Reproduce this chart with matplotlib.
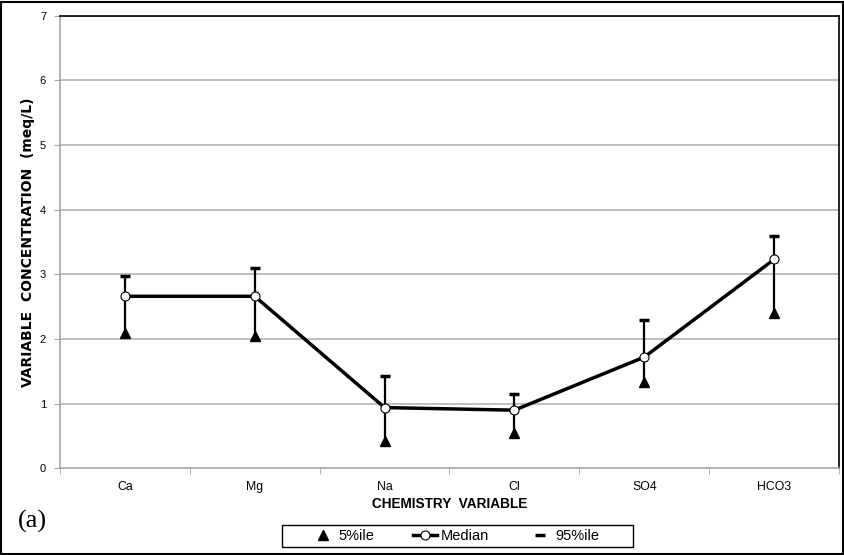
import matplotlib
matplotlib.use("Agg")
import matplotlib.pyplot as plt
import numpy as np
from matplotlib.lines import Line2D
from matplotlib.patches import Rectangle

categories = ["Ca", "Mg", "Na", "Cl", "SO4", "HCO3"]
p05 = [2.10, 2.05, 0.42, 0.55, 1.33, 2.40]
median = [2.66, 2.66, 0.94, 0.90, 1.72, 3.23]
p95 = [2.97, 3.09, 1.43, 1.15, 2.29, 3.59]
yticks = [0, 1, 2, 3, 4, 5, 6, 7]

plt.rcParams['font.family'] = ['Liberation Sans', 'DejaVu Sans']

fig = plt.figure(figsize=(8.45, 5.55), dpi=100)
ax = fig.add_axes([60/845, 1-468.4/555, 779/845, (468.4-15.5)/555])

x = np.arange(len(categories))
ax.set_xlim(-0.5, len(categories)-0.5)
ax.set_ylim(0, 7)

for yt in yticks[1:]:
    ax.axhline(yt, color='#b4b4b4', lw=1.2, zorder=1)

ax.vlines(x, p05, p95, color='black', lw=1.6, zorder=3)
ax.plot(x, p95, linestyle='none', marker='_', markersize=7.5, markeredgewidth=2.5, color='black', zorder=4)
ax.plot(x, p05, linestyle='none', marker='^', markersize=7, color='black', zorder=4)
ax.plot(x, median, color='black', lw=2.5, marker='o', markersize=6.5,
        markerfacecolor='white', markeredgecolor='black', markeredgewidth=0.8, zorder=5)

ax.set_yticks(yticks)
ax.set_yticklabels([str(v) for v in yticks], fontsize=8)
ax.set_xticks(x)
ax.set_xticklabels(categories, fontsize=8.8)
ax.set_xticks(np.arange(-0.5, len(categories)), minor=True)
ax.tick_params(axis='x', which='major', length=0, pad=9)
ax.tick_params(axis='x', which='minor', length=4, color='#a6a6a6')
ax.tick_params(axis='y', length=4, color='#a6a6a6', pad=6)

for s in ['left', 'bottom']:
    ax.spines[s].set_color('#a6a6a6')
    ax.spines[s].set_linewidth(1.2)
for s in ['top', 'right']:
    ax.spines[s].set_color('black')
    ax.spines[s].set_linewidth(1.2)

ax.set_xlabel("CHEMISTRY  VARIABLE", fontsize=9.8, fontweight='bold', labelpad=3)
ax.set_ylabel("VARIABLE  CONCENTRATION  (meq/L)", fontsize=10, fontweight='bold',
              family=['DejaVu Sans'])
ax.yaxis.set_label_coords(-(60-35)/779, 0.5)

handles = [
    Line2D([], [], linestyle='none', marker='^', markersize=7, color='black'),
    Line2D([], [], color='black', lw=2.5, marker='o', markersize=6.5,
           markerfacecolor='white', markeredgecolor='black', markeredgewidth=0.8),
    Line2D([], [], linestyle='none', marker='_', markersize=7.5, markeredgewidth=2.5, color='black'),
]
leg = fig.legend(handles, ["5%ile", "Median", "95%ile"], loc='center',
                 bbox_to_anchor=(455/845, 1-536/555), ncol=3, fontsize=10.5,
                 frameon=False, handlelength=1.6,
                 columnspacing=2.7, handletextpad=0.25, borderpad=0, borderaxespad=0)

fig.patches.append(Rectangle((282/845, 1-547/555), 351/845, 22/555, transform=fig.transFigure,
                             fill=False, edgecolor='black', lw=1.0))

fig.text(18/845, 1-521/555, "(a)", fontsize=19, family='Liberation Serif', va='center', ha='left')

fig.patches.append(Rectangle((1/845, 1/555), 842/845, 552/555, transform=fig.transFigure,
                             fill=False, edgecolor='black', lw=1.5))

fig.savefig("out.png", dpi=100)
